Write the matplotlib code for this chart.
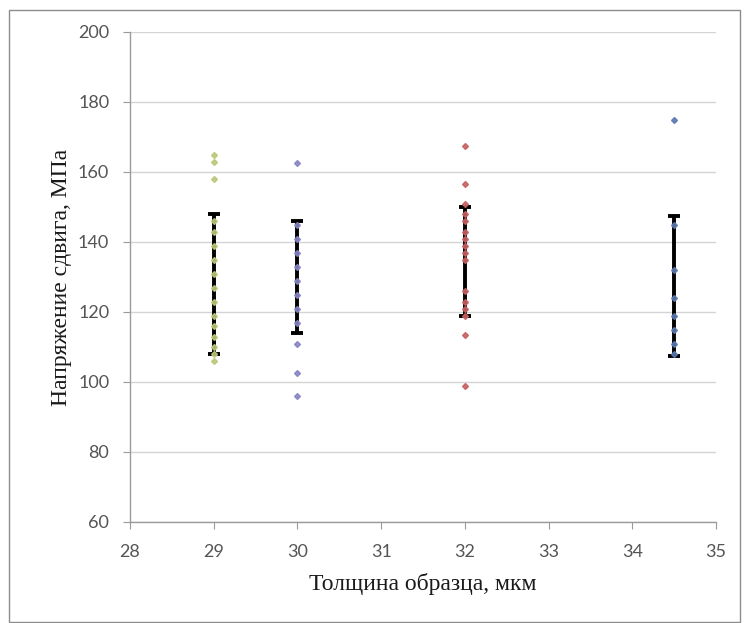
import matplotlib
matplotlib.use("Agg")
import matplotlib.pyplot as plt
from matplotlib.patches import Rectangle

# Data
thickness = [29, 30, 32, 34.5]
points = {
    29: [165, 163, 158, 146, 143, 139, 135, 131, 127, 123, 119, 116, 113, 110, 108, 106],
    30: [162.5, 145, 141, 137, 133, 129, 125, 121, 117, 111, 102.7, 96],
    32: [167.5, 156.5, 151, 148, 146, 143, 141, 139, 137, 135, 126, 123, 121, 119, 113.5, 99],
    34.5: [175, 145, 132, 124, 119, 115, 111, 108],
}
bar_low = [108, 114, 119, 107.5]
bar_high = [148, 146, 150, 147.5]
colors = ["#b8c878", "#8585c2", "#c66060", "#5a78b0"]

x_ticks = [28, 29, 30, 31, 32, 33, 34, 35]
y_ticks = [60, 80, 100, 120, 140, 160, 180, 200]

fig = plt.figure(figsize=(7.48, 6.23), dpi=100)
fig.patch.set_facecolor("white")
fig.patches.append(Rectangle((9 / 748, 1 - 622 / 623), 731 / 748, 612 / 623,
                             transform=fig.transFigure, fill=False,
                             edgecolor="#8c8c8c", linewidth=1.0))

ax = fig.add_axes([130 / 748, 1 - 522 / 623, 586 / 748, 490 / 623])

for i, x in enumerate(thickness):
    vals = points[x]
    ax.plot([x] * len(vals), vals, linestyle="none", marker="D", markersize=3.0,
            color=colors[i], markeredgecolor=colors[i], alpha=0.9, zorder=4)
    mid = (bar_low[i] + bar_high[i]) / 2
    half = (bar_high[i] - bar_low[i]) / 2
    ax.errorbar([x], [mid], yerr=[[half], [half]], fmt="none", ecolor="black",
                elinewidth=2.8, capsize=4.5, capthick=2.8, zorder=3)

ax.set_xlim(28, 35)
ax.set_ylim(60, 200)
ax.set_xticks(x_ticks)
ax.set_yticks(y_ticks)
ax.yaxis.grid(True, color="#d4d4d4", linewidth=1.0)
ax.set_axisbelow(True)
for s in ["top", "right"]:
    ax.spines[s].set_visible(False)
for s in ["left", "bottom"]:
    ax.spines[s].set_color("#9a9a9a")
    ax.spines[s].set_linewidth(1.0)
ax.tick_params(axis="both", direction="out", length=5, color="#9a9a9a",
               labelcolor="#555555", labelsize=13)
ax.tick_params(axis="y", pad=10)
ax.tick_params(axis="x", pad=11)
for lab in ax.get_xticklabels() + ax.get_yticklabels():
    lab.set_family("Lato")

ax.set_xlabel("Толщина образца, мкм", family="Liberation Serif", fontsize=17,
              color="#1a1a1a", labelpad=9)
ax.set_ylabel("Напряжение сдвига, МПа", family="Liberation Serif", fontsize=17,
              color="#1a1a1a", labelpad=4)

fig.savefig("out.png", dpi=100, facecolor="white")
